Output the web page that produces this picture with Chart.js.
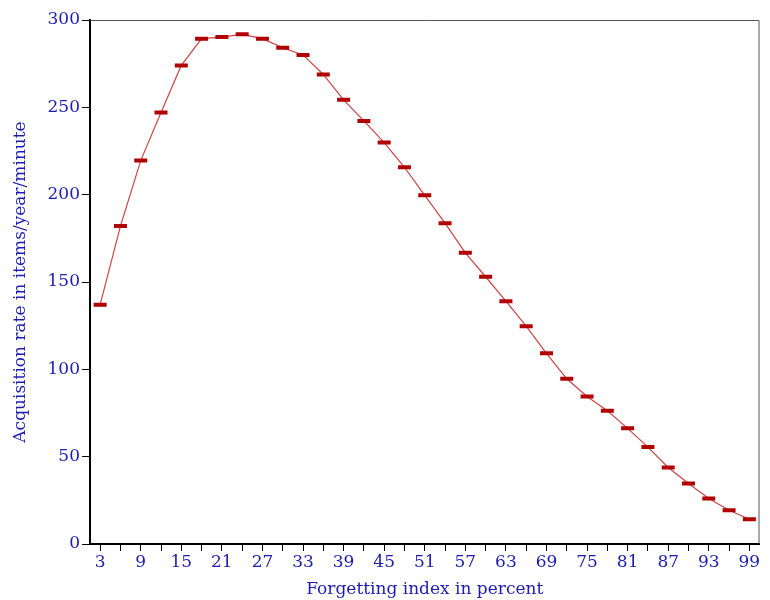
<!DOCTYPE html>
<html>
<head>
<meta charset="utf-8">
<script src="https://cdn.jsdelivr.net/npm/chart.js@4"></script>
<style>
  html, body { margin: 0; padding: 0; background: #fff; }
  #wrap { width: 770px; height: 600px; }
</style>
</head>
<body>
<div id="wrap"><canvas id="rateChart" width="770" height="600"></canvas></div>
<script>
const forgetting = [3, 6, 9, 12, 15, 18, 21, 24, 27, 30, 33, 36, 39, 42, 45, 48, 51,
  54, 57, 60, 63, 66, 69, 72, 75, 78, 81, 84, 87, 90, 93, 96, 99];
const acquisition = [137, 182, 219.5, 247, 274, 289.3, 290.2, 291.8, 289.3, 284.1, 280,
  268.8, 254.3, 242.2, 229.8, 215.7, 199.6, 183.7, 166.7, 153, 139, 124.7, 109.2,
  94.6, 84.5, 76.3, 66.2, 55.5, 43.8, 34.6, 26, 19.3, 14.2];
const yTicks = [0, 50, 100, 150, 200, 250, 300];

const blue = "#1c1cb4";
const serif = "'DejaVu Serif', 'Liberation Serif', serif";

// frame round the plot area (top and right edges)
const frame = {
  id: "frame",
  afterDraw(chart) {
    const a = chart.chartArea;
    const c = chart.ctx;
    c.save();
    c.strokeStyle = "#555";
    c.lineWidth = 1;
    c.beginPath();
    c.moveTo(a.left, a.top + 0.5);
    c.lineTo(a.right - 0.5, a.top + 0.5);
    c.lineTo(a.right - 0.5, a.bottom);
    c.stroke();
    c.restore();
  },
};

const ctx = document.getElementById("rateChart").getContext("2d");
new Chart(ctx, {
  type: "line",
  data: {
    labels: forgetting.map(String),
    datasets: [
      {
        data: acquisition,
        borderColor: "#cc4444",
        borderWidth: 1.2,
        tension: 0,
        pointStyle: "line",
        pointRadius: 6.5,
        pointBorderWidth: 4,
        pointBorderColor: "#b00000",
        pointBackgroundColor: "#b00000",
      },
    ],
  },
  options: {
    responsive: false,
    animation: false,
    layout: { padding: { top: 20, right: 1, left: 0, bottom: 0 } },
    plugins: { legend: { display: false }, tooltip: { enabled: false } },
    scales: {
      x: {
        type: "category",
        offset: true,
        grid: {
          drawOnChartArea: false,
          offset: false,
          tickLength: 7,
          color: "#000",
          lineWidth: 1,
        },
        border: { color: "#000", width: 2 },
        ticks: {
          autoSkip: false,
          maxRotation: 0,
          color: blue,
          font: { family: serif, size: 17 },
          padding: 1,
          callback: function (v, i) {
            return i % 2 === 0 ? this.getLabelForValue(v) : "";
          },
        },
        title: {
          display: true,
          text: "Forgetting index in percent",
          color: blue,
          font: { family: serif, size: 17 },
          padding: { top: 0, bottom: 0 },
        },
        afterFit(scale) { scale.height = 56; },
      },
      y: {
        min: 0,
        max: 300,
        afterBuildTicks(scale) { scale.ticks = yTicks.map((v) => ({ value: v })); },
        grid: { drawOnChartArea: false, tickLength: 8, color: "#000" },
        border: { color: "#000", width: 2 },
        ticks: {
          color: blue,
          font: { family: serif, size: 17 },
          padding: 2,
        },
        title: {
          display: true,
          text: "Acquisition rate in items/year/minute",
          color: blue,
          font: { family: serif, size: 17 },
          padding: { top: 10, bottom: 4 },
        },
        afterFit(scale) { scale.width = 90; },
      },
    },
  },
  plugins: [frame],
});
</script>
</body>
</html>
